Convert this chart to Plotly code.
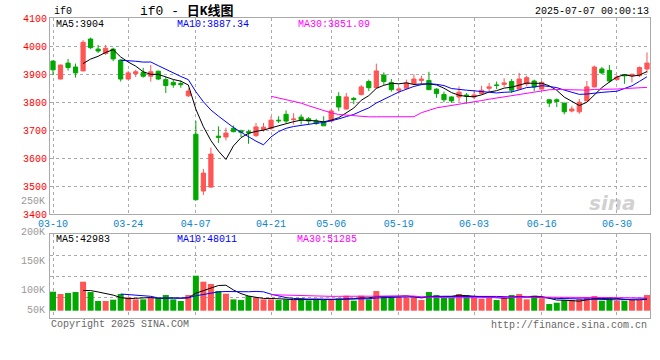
import plotly.graph_objects as go
import pandas as pd

# ---------------- data ----------------
dates = [
    "03-10", "03-11", "03-12", "03-13", "03-14", "03-17", "03-18", "03-19", "03-20", "03-21",
    "03-24", "03-25", "03-26", "03-27", "03-28", "03-31", "04-01", "04-02", "04-03", "04-07",
    "04-08", "04-09", "04-10", "04-11", "04-14", "04-15", "04-16", "04-17", "04-18", "04-21",
    "04-22", "04-23", "04-24", "04-25", "04-28", "04-29", "04-30", "05-06", "05-07", "05-08",
    "05-09", "05-12", "05-13", "05-14", "05-15", "05-16", "05-19", "05-20", "05-21", "05-22",
    "05-23", "05-26", "05-27", "05-28", "05-29", "05-30", "06-03", "06-04", "06-05", "06-06",
    "06-09", "06-10", "06-11", "06-12", "06-13", "06-16", "06-17", "06-18", "06-19", "06-20",
    "06-23", "06-24", "06-25", "06-26", "06-27", "06-30", "07-01", "07-02", "07-03", "07-04",
]
opens = [
    3946, 3882, 3939, 3925, 3911, 4025, 3989, 3973, 3989, 3950,
    3882, 3901, 3906, 3892, 3910, 3880, 3870, 3866, 3822, 3685,
    3482, 3496, 3678, 3675, 3706, 3697, 3694, 3680, 3701, 3706,
    3735, 3756, 3737, 3746, 3740, 3732, 3728, 3732, 3820, 3775,
    3813, 3827, 3873, 3851, 3896, 3870, 3842, 3849, 3865, 3877,
    3877, 3846, 3827, 3818, 3818, 3825, 3818, 3830, 3849, 3861,
    3863, 3873, 3846, 3865, 3875, 3846, 3808, 3808, 3796, 3768,
    3765, 3804, 3854, 3918, 3913, 3880, 3897, 3894, 3894, 3918,
]
highs = [
    3948, 3933, 3954, 3937, 4021, 4030, 4004, 4004, 3994, 3952,
    3911, 3915, 3922, 3932, 3912, 3889, 3880, 3877, 3849, 3732,
    3561, 3637, 3713, 3708, 3716, 3701, 3701, 3725, 3725, 3749,
    3749, 3770, 3760, 3756, 3746, 3740, 3749, 3775, 3835, 3832,
    3818, 3861, 3880, 3937, 3906, 3882, 3854, 3880, 3899, 3894,
    3908, 3849, 3837, 3820, 3856, 3832, 3842, 3858, 3868, 3873,
    3885, 3882, 3904, 3894, 3880, 3875, 3811, 3813, 3797, 3785,
    3811, 3875, 3930, 3925, 3932, 3896, 3899, 3901, 3927, 3977,
]
lows = [
    3896, 3881, 3912, 3887, 3910, 3989, 3975, 3968, 3946, 3873,
    3880, 3889, 3887, 3873, 3878, 3832, 3851, 3851, 3818, 3449,
    3468, 3494, 3654, 3663, 3692, 3675, 3651, 3675, 3694, 3699,
    3725, 3725, 3720, 3720, 3718, 3718, 3714, 3730, 3768, 3773,
    3792, 3823, 3839, 3849, 3861, 3837, 3830, 3846, 3861, 3861,
    3843, 3815, 3799, 3797, 3801, 3794, 3811, 3827, 3837, 3846,
    3854, 3832, 3845, 3856, 3839, 3845, 3782, 3782, 3756, 3763,
    3758, 3803, 3852, 3899, 3870, 3877, 3865, 3870, 3889, 3904,
]
closes = [
    3915, 3932, 3923, 3904, 4013, 3994, 3982, 3992, 3954, 3882,
    3904, 3908, 3892, 3908, 3882, 3859, 3861, 3862, 3839, 3451,
    3546, 3614, 3674, 3689, 3694, 3692, 3690, 3711, 3710, 3735,
    3733, 3732, 3739, 3737, 3732, 3723, 3715, 3768, 3782, 3818,
    3809, 3854, 3851, 3911, 3873, 3844, 3846, 3868, 3882, 3882,
    3844, 3830, 3808, 3804, 3835, 3822, 3825, 3842, 3854, 3859,
    3868, 3842, 3882, 3887, 3854, 3870, 3796, 3802, 3765, 3775,
    3799, 3854, 3925, 3904, 3875, 3889, 3894, 3899, 3923, 3939,
]
volumes = [
    76000, 66700, 70700, 74700, 116000, 74700, 38700, 38700, 44000, 66700,
    53300, 45300, 45300, 53300, 49300, 62700, 45300, 38700, 62700, 140000,
    116000, 106700, 78700, 68000, 45300, 42700, 58700, 53300, 45300, 45300,
    42700, 45300, 42700, 49300, 41300, 45300, 42700, 46700, 49300, 60000,
    40000, 60000, 45300, 78700, 58700, 53300, 53300, 53300, 53300, 42700,
    74700, 62700, 53300, 53300, 66700, 62700, 53300, 48000, 53300, 42700,
    53300, 62700, 66700, 45300, 60000, 49300, 26700, 32000, 42700, 42700,
    46700, 53300, 58700, 40000, 53300, 40000, 40000, 42700, 42700, 62700,
]
tick_dates = ["03-10", "03-24", "04-07", "04-21", "05-06", "05-19", "06-03", "06-16", "06-30"]
price_ticks = [3400, 3500, 3600, 3700, 3800, 3900, 4000, 4100]
price_tick_text = ["3400", "3500", "3600", "3700", "3800", "3900", "4000", "4100"]
vol_labels = ["200K", "150K", "100K", "50K"]
price_ma_text = ["MA5:3904", "MA10:3887.34", "MA30:3851.09"]
vol_ma_text = ["MA5:42983", "MA10:48011", "MA30:51285"]

# ---------------- styling ----------------
UP = "#ff5555"
DN = "#00a800"
MONO = "Liberation Mono, DejaVu Sans Mono, monospace"
GRID = "#aaaaaa"

cs = pd.Series(closes, dtype=float)
vs = pd.Series(volumes, dtype=float)
ma_colors = ["#000000", "#0000ff", "#ff00ff"]
windows = [5, 10, 30]

vol_colors = [UP if c >= o else DN for o, c in zip(opens, closes)]

fig = go.Figure()
fig.add_trace(go.Candlestick(
    x=dates, open=opens, high=highs, low=lows, close=closes,
    increasing=dict(line=dict(color=UP, width=1), fillcolor=UP),
    decreasing=dict(line=dict(color=DN, width=1), fillcolor=DN),
    whiskerwidth=0, xaxis="x", yaxis="y", hoverinfo="skip",
))
for w, col in zip(windows, ma_colors):
    fig.add_trace(go.Scatter(x=dates, y=cs.rolling(w).mean(), mode="lines",
                             line=dict(color=col, width=1), xaxis="x", yaxis="y",
                             hoverinfo="skip"))

fig.add_trace(go.Bar(x=dates, y=volumes, marker=dict(color=vol_colors, line=dict(width=0)),
                     width=0.8, xaxis="x2", yaxis="y2", hoverinfo="skip"))
for w, col in zip(windows, ma_colors):
    fig.add_trace(go.Scatter(x=dates, y=vs.rolling(w).mean(), mode="lines",
                             line=dict(color=col, width=1), xaxis="x2", yaxis="y2",
                             hoverinfo="skip"))

W, H = 660, 360
ML, MR, MT, MB = 50, 10, 18, 42
PH = H - MT - MB
PW = W - ML - MR


def py(pix):
    return (H - MB - pix) / PH


def px(pix):
    return (pix - ML) / PW


vol_range = [-29200, 306800]
span = vol_range[1] - vol_range[0]
vol_grid = [vol_range[0] + span * k / 4 for k in (1, 2, 3)]

axis_common = dict(showline=True, mirror=True, linecolor=GRID, linewidth=1,
                   showgrid=True, gridcolor=GRID, griddash="dot", gridwidth=1,
                   ticks="", zeroline=False, fixedrange=True, automargin=False)

fig.update_layout(
    width=W, height=H,
    margin=dict(l=ML, r=MR, t=MT, b=MB, pad=0, autoexpand=False),
    paper_bgcolor="white", plot_bgcolor="white",
    showlegend=False, boxgap=0.2, bargap=0.2,
    font=dict(family=MONO, size=10, color="#000"),
    xaxis=dict(domain=[0, 1], anchor="y", type="category", range=[-0.4, 79.4],
               tickvals=tick_dates, ticktext=tick_dates,
               tickfont=dict(color="#0a84cc", size=10, family=MONO),
               rangeslider=dict(visible=False), **axis_common),
    yaxis=dict(domain=[py(214), 1], anchor="x", range=[3400, 4100],
               tickvals=price_ticks, ticktext=price_tick_text,
               tickfont=dict(color="#ff0000", size=10, family=MONO), **axis_common),
    xaxis2=dict(domain=[0, 1], anchor="y2", type="category", range=[-0.4, 79.4],
                matches="x", tickvals=tick_dates, showticklabels=False, **axis_common),
    yaxis2=dict(domain=[0, py(234)], anchor="x2", range=vol_range,
                tickvals=vol_grid, showticklabels=False, **axis_common),
)

ann = []
# header
ann.append(dict(text="if0", x=px(52), y=py(12), xanchor="left", yanchor="middle",
                font=dict(size=10, family=MONO, color="#000")))
ann.append(dict(text="if0 - <b>日K线图</b>", x=px(187), y=py(11), xanchor="center", yanchor="middle",
                font=dict(size=13, family="Liberation Mono, Noto Sans CJK SC", color="#000")))
ann.append(dict(text="2025-07-07 00:00:13", x=px(651), y=py(12), xanchor="right", yanchor="middle",
                font=dict(size=10, family=MONO, color="#000")))
# price MA row
for t, xx, col in zip(price_ma_text, [54, 175, 296], ma_colors):
    ann.append(dict(text=t, x=px(xx), y=py(24), xanchor="left", yanchor="middle",
                    font=dict(size=10, family=MONO, color=col)))
# volume MA row
for t, xx, col in zip(vol_ma_text, [54, 175, 295], ma_colors):
    ann.append(dict(text=t, x=px(xx), y=py(239), xanchor="left", yanchor="middle",
                    font=dict(size=10, family=MONO, color=col)))
# gray volume labels on the left
ann.append(dict(text="250K", x=px(47), y=py(201), xanchor="right", yanchor="middle",
                font=dict(size=10, family=MONO, color="#999999")))
for t, yy in zip(vol_labels, [232, 261, 290, 310]):
    ann.append(dict(text=t, x=px(47), y=py(yy), xanchor="right", yanchor="middle",
                    font=dict(size=10, family=MONO, color="#999999")))
# footer
ann.append(dict(text="Copyright 2025 SINA.COM", x=px(49), y=py(324), xanchor="left", yanchor="middle",
                font=dict(size=10, family=MONO, color="#666666")))
ann.append(dict(text="http://finance.sina.com.cn", x=px(649), y=py(325), xanchor="right", yanchor="middle",
                font=dict(size=10, family=MONO, color="#666666")))
# watermark
ann.append(dict(text="<b><i>sina</i></b>", x=px(612), y=py(203), xanchor="center", yanchor="middle",
                font=dict(size=20, family="DejaVu Sans", color="rgba(170,170,170,0.55)")))
for a in ann:
    a.update(xref="paper", yref="paper", showarrow=False)
fig.update_layout(annotations=ann)

fig.write_html("out.html", config={"displayModeBar": False},
               post_script="document.body.style.margin='0';")
